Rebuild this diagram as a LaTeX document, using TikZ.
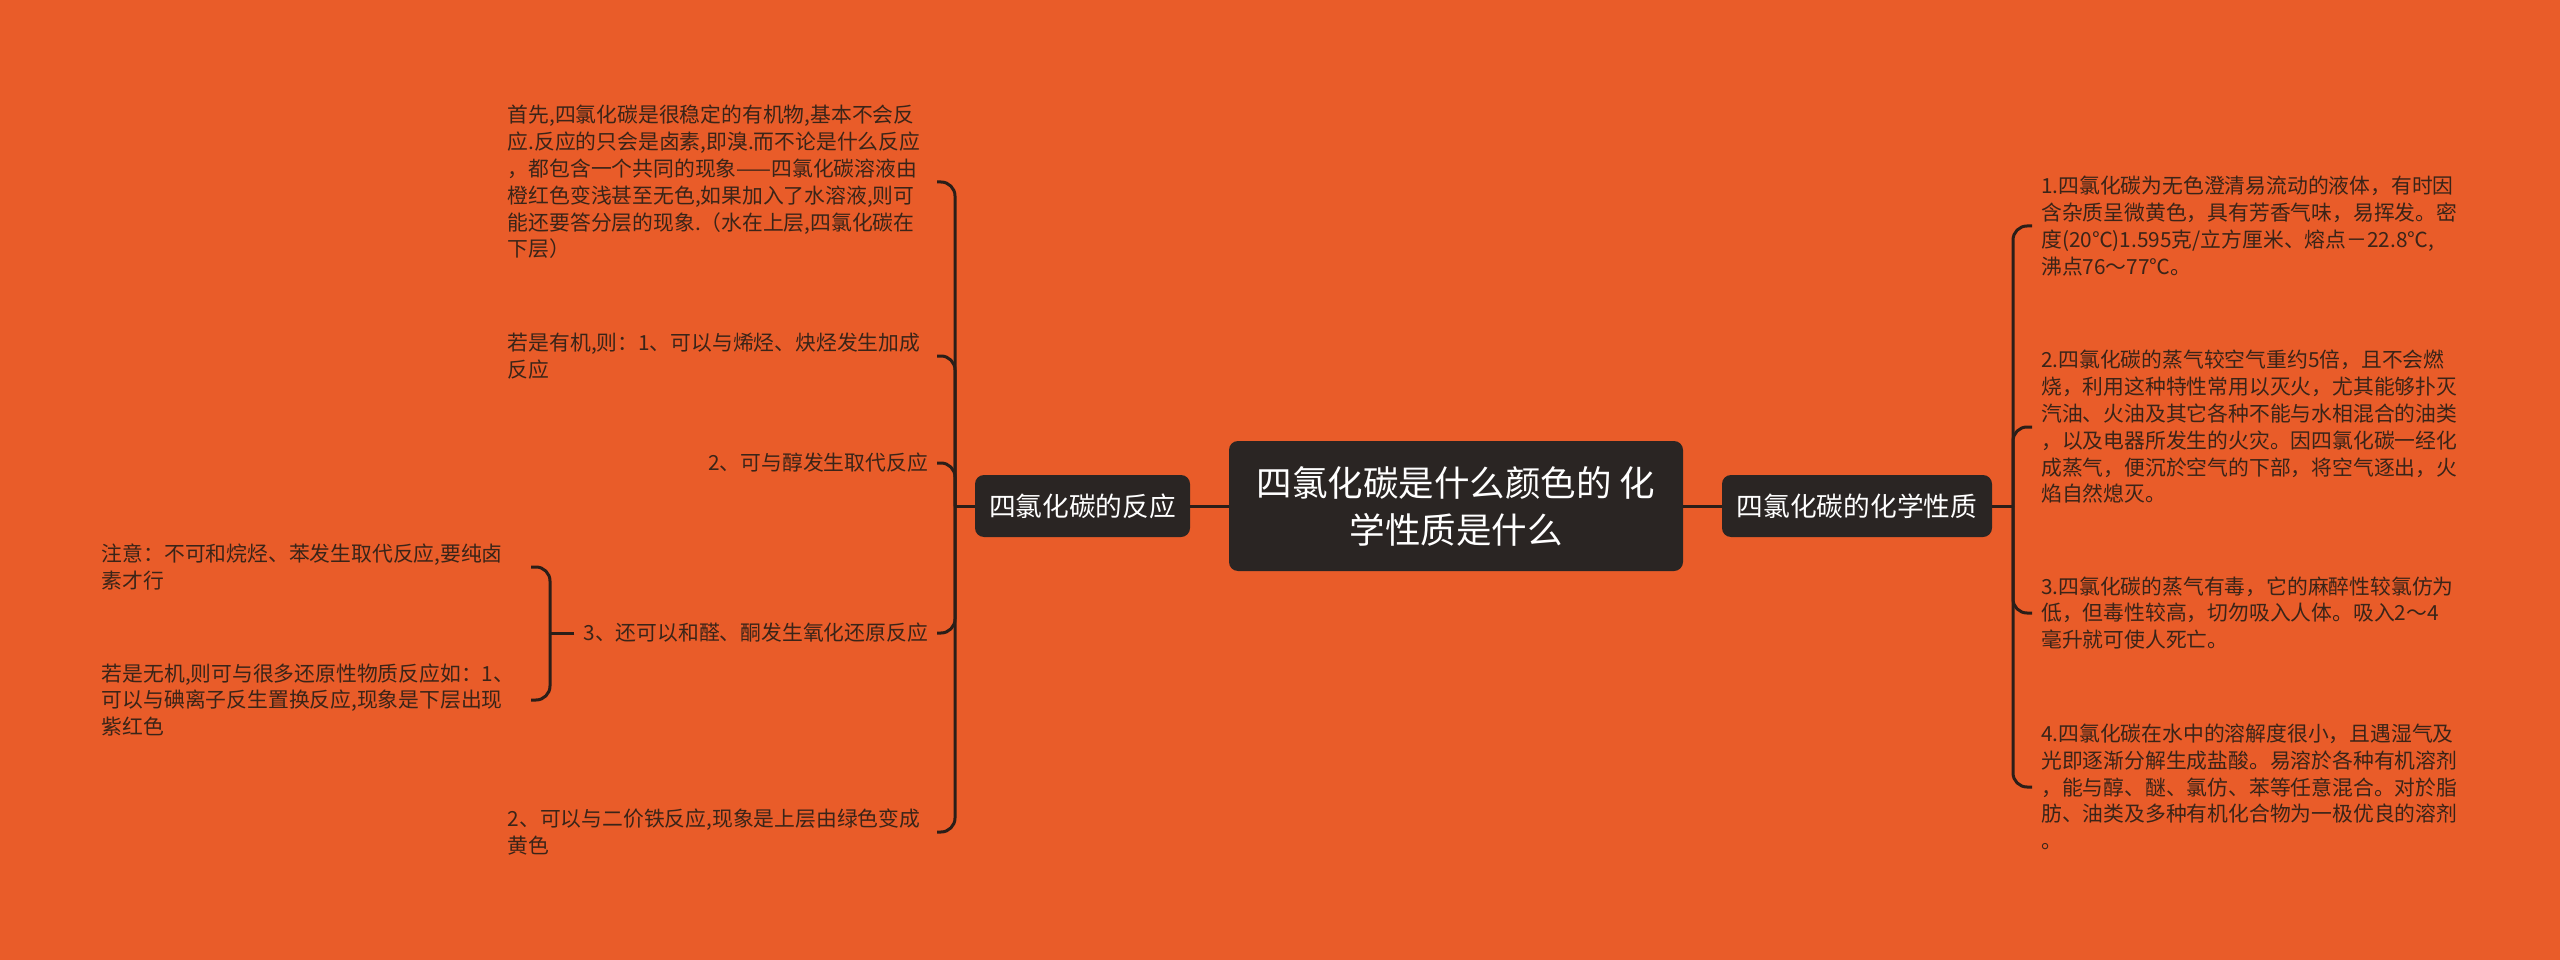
\documentclass[tikz,border=0pt]{standalone}
\usepackage{fontspec}
\setmainfont{Noto Sans CJK SC}
\definecolor{bg}{HTML}{E95C29}
\definecolor{lc}{HTML}{2B1E18}
\definecolor{nodebg}{HTML}{2A2523}
\definecolor{tc}{HTML}{3A2418}
\begin{document}
\begin{tikzpicture}[x=1pt,y=-1pt,
  line/.style={draw=lc, line width=3pt},
  br/.style={line, rounded corners=14pt},
  topic/.style={fill=nodebg, text=white, rounded corners=9pt, inner sep=0pt, align=center},
  leaf/.style={text=tc, font=\fontsize{20.8}{26.8}\selectfont, inner xsep=9pt, inner ysep=2pt, align=left},
  wleaf/.style={leaf, text width=420pt},
]
\fill[bg] (0,0) rectangle (2560,960);
\useasboundingbox (0,0) rectangle (2560,960);

% topics
\node[topic, minimum width=454pt, minimum height=130pt, font=\fontsize{35.5}{47}\selectfont] (root) at (1456,506) {四氯化碳是什么颜色的 化\\学性质是什么};
\node[topic, minimum width=215pt, minimum height=62pt, font=\fontsize{26.7}{32}\selectfont] (L) at (1082.5,506) {四氯化碳的反应};
\node[topic, minimum width=270pt, minimum height=62pt, font=\fontsize{26.7}{32}\selectfont] (R) at (1857,506) {四氯化碳的化学性质};

% left children
\node[wleaf, anchor=east] (l1) at (937,182) {首先,四氯化碳是很稳定的有机物,基本不会反\\应.反应的只会是卤素,即溴.而不论是什么反应\\，都包含一个共同的现象——四氯化碳溶液由\\橙红色变浅甚至无色,如果加入了水溶液,则可\\能还要答分层的现象.（水在上层,四氯化碳在\\下层）};
\node[wleaf, anchor=east] (l2) at (937,356) {若是有机,则：1、可以与烯烃、炔烃发生加成\\反应};
\node[leaf, anchor=east] (l3) at (937,463) {2、可与醇发生取代反应};
\node[leaf, anchor=east] (l4) at (937,633) {3、还可以和醛、酮发生氧化还原反应};
\node[wleaf, anchor=east] (l5) at (937,832) {2、可以与二价铁反应,现象是上层由绿色变成\\黄色};

% sub children
\node[wleaf, anchor=east] (s1) at (531,567) {注意：不可和烷烃、苯发生取代反应,要纯卤\\素才行};
\node[wleaf, anchor=east] (s2) at (531,700) {若是无机,则可与很多还原性物质反应如：1、\\可以与碘离子反生置换反应,现象是下层出现\\紫红色};

% right children
\node[wleaf, anchor=west] (r1) at (2032,226) {1.四氯化碳为无色澄清易流动的液体，有时因\\含杂质呈微黄色，具有芳香气味，易挥发。密\\度(20℃)1.595克/立方厘米、熔点－22.8℃,\\沸点76～77℃。};
\node[wleaf, anchor=west] (r2) at (2032,427) {2.四氯化碳的蒸气较空气重约5倍，且不会燃\\烧，利用这种特性常用以灭火，尤其能够扑灭\\汽油、火油及其它各种不能与水相混合的油类\\，以及电器所发生的火灾。因四氯化碳一经化\\成蒸气，便沉於空气的下部，将空气逐出，火\\焰自然熄灭。};
\node[wleaf, anchor=west] (r3) at (2032,613) {3.四氯化碳的蒸气有毒，它的麻醉性较氯仿为\\低，但毒性较高，切勿吸入人体。吸入2～4\\毫升就可使人死亡。};
\node[wleaf, anchor=west] (r4) at (2032,787) {4.四氯化碳在水中的溶解度很小，且遇湿气及\\光即逐渐分解生成盐酸。易溶於各种有机溶剂\\，能与醇、醚、氯仿、苯等任意混合。对於脂\\肪、油类及多种有机化合物为一极优良的溶剂\\。};

% connectors
\draw[line] (root.west) -- (L.east);
\draw[line] (root.east) -- (R.west);

\coordinate (LB) at (955,506);
\draw[line] (L.west) -- (LB);
\foreach \n in {l1,l2,l3,l4,l5} \draw[br] (LB) |- (\n.east);

\coordinate (SB) at (550,633);
\draw[line] (l4.west) -- (SB);
\foreach \n in {s1,s2} \draw[br] (SB) |- (\n.east);

\coordinate (RB) at (2013,506);
\draw[line] (R.east) -- (RB);
\foreach \n in {r1,r2,r3,r4} \draw[br] (RB) |- (\n.west);
\end{tikzpicture}
\end{document}
